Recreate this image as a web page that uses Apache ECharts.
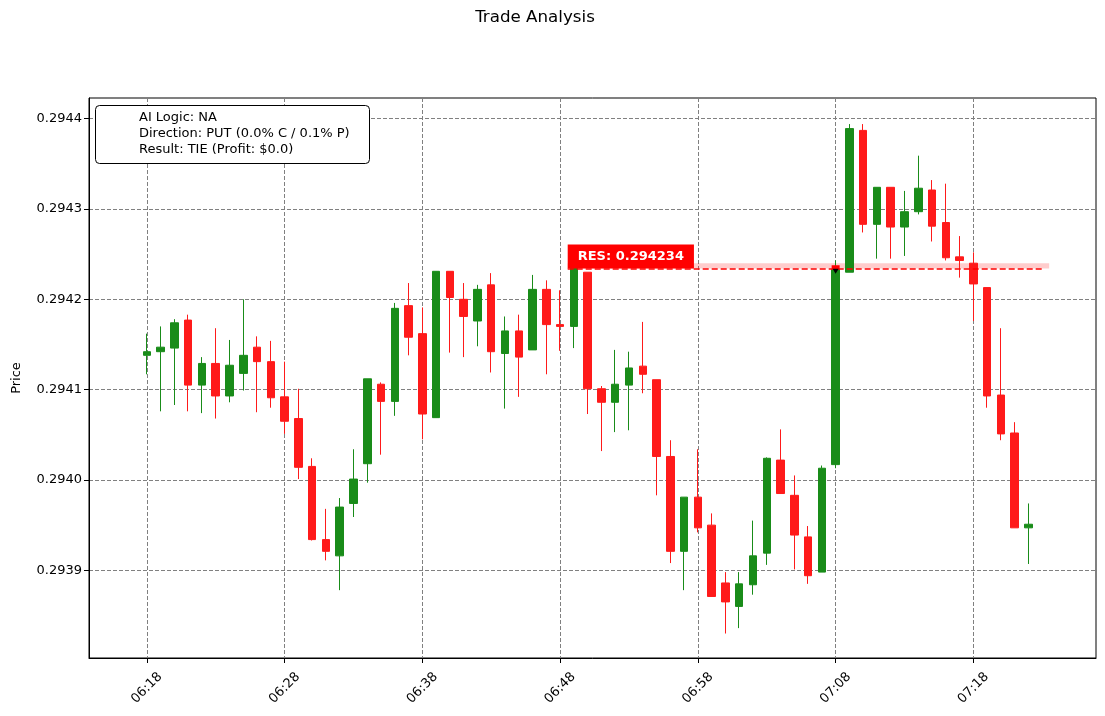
<!DOCTYPE html>
<html>
<head>
<meta charset="utf-8">
<script src="https://cdn.jsdelivr.net/npm/echarts@6/dist/echarts.min.js"></script>
<style>
html, body { margin: 0; padding: 0; background: #fff; }
#chart { width: 1105px; height: 716px; }
</style>
</head>
<body>
<div id="chart"></div>
<script>
// one candle per minute
var times = ['06:18','06:19','06:20','06:21','06:22','06:23','06:24','06:25','06:26','06:27',
             '06:28','06:29','06:30','06:31','06:32','06:33','06:34','06:35','06:36','06:37',
             '06:38','06:39','06:40','06:41','06:42','06:43','06:44','06:45','06:46','06:47',
             '06:48','06:49','06:50','06:51','06:52','06:53','06:54','06:55','06:56','06:57',
             '06:58','06:59','07:00','07:01','07:02','07:03','07:04','07:05','07:06','07:07',
             '07:08','07:09','07:10','07:11','07:12','07:13','07:14','07:15','07:16','07:17',
             '07:18','07:19','07:20','07:21','07:22'];
var opens = [0.294138,0.294142,0.294146,0.294177,0.294105,0.294129,0.294093,0.294118,0.294147,0.294131,
             0.294092,0.294068,0.294015,0.293934,0.293916,0.293974,0.294018,0.294106,0.294087,0.294193,
             0.294162,0.294069,0.294231,0.294200,0.294176,0.294216,0.294140,0.294165,0.294144,0.294211,
             0.294172,0.294170,0.294230,0.294101,0.294086,0.294105,0.294126,0.294111,0.294026,0.293921,
             0.293981,0.293950,0.293886,0.293860,0.293884,0.293919,0.294022,0.293983,0.293937,0.293898,
             0.294017,0.294230,0.294387,0.294283,0.294324,0.294280,0.294297,0.294321,0.294285,0.294247,
             0.294240,0.294213,0.294094,0.294052,0.293947];
var closes = [0.294142,0.294147,0.294174,0.294105,0.294129,0.294093,0.294127,0.294138,0.294131,0.294091,
              0.294065,0.294014,0.293934,0.293921,0.293970,0.294001,0.294112,0.294087,0.294190,0.294158,
              0.294073,0.294231,0.294202,0.294181,0.294211,0.294142,0.294165,0.294136,0.294211,0.294172,
              0.294170,0.294238,0.294101,0.294086,0.294106,0.294124,0.294117,0.294026,0.293921,0.293981,
              0.293947,0.293871,0.293865,0.293885,0.293916,0.294024,0.293985,0.293939,0.293894,0.294013,
              0.294233,0.294389,0.294283,0.294324,0.294280,0.294297,0.294323,0.294281,0.294246,0.294243,
              0.294217,0.294093,0.294051,0.293947,0.293951];
var highs = [0.294162,0.294170,0.294178,0.294183,0.294136,0.294168,0.294155,0.294200,0.294159,0.294154,
             0.294131,0.294101,0.294024,0.293968,0.293980,0.294034,0.294112,0.294108,0.294196,0.294218,
             0.294191,0.294231,0.294231,0.294218,0.294216,0.294229,0.294181,0.294183,0.294227,0.294221,
             0.294210,0.294250,0.294230,0.294104,0.294144,0.294142,0.294175,0.294111,0.294044,0.293981,
             0.294034,0.293963,0.293898,0.293898,0.293955,0.294025,0.294056,0.294005,0.293949,0.294016,
             0.294243,0.294394,0.294394,0.294324,0.294324,0.294320,0.294359,0.294332,0.294328,0.294270,
             0.294252,0.294213,0.294168,0.294064,0.293974];
var lows = [0.294117,0.294076,0.294083,0.294076,0.294074,0.294068,0.294086,0.294099,0.294075,0.294080,
            0.294051,0.294001,0.293933,0.293911,0.293878,0.293959,0.293997,0.294028,0.294071,0.294138,
            0.294045,0.294069,0.294141,0.294136,0.294148,0.294119,0.294079,0.294092,0.294144,0.294117,
            0.294143,0.294146,0.294073,0.294032,0.294053,0.294055,0.294096,0.293983,0.293908,0.293878,
            0.293942,0.293871,0.293830,0.293836,0.293873,0.293906,0.293985,0.293901,0.293885,0.293898,
            0.294013,0.294230,0.294274,0.294245,0.294245,0.294248,0.294294,0.294264,0.294243,0.294224,
            0.294176,0.294080,0.294044,0.293947,0.293907];

var resPrice = 0.294234;
var entryTime = '07:08';
var resFrom = '06:48', resTo = '07:23';
var infoLines = ['AI Logic: NA', 'Direction: PUT (0.0% C / 0.1% P)', 'Result: TIE (Profit: $0.0)'];

var FONT = 'DejaVu Sans';
var UP = '#198c19', DOWN = '#ff1a1a';

function toMin(t) { var p = t.split(':'); return (+p[0]) * 60 + (+p[1]); }
var t0 = toMin(times[0]);
function pad(n) { return (n < 10 ? '0' : '') + n; }
function fmtTime(v) { var m = t0 + Math.round(v); return pad(Math.floor(m / 60)) + ':' + pad(m % 60); }

var candles = times.map(function (t, i) {
    return [toMin(t) - t0, opens[i], closes[i], lows[i], highs[i]];
});
var entryX = toMin(entryTime) - t0;
var resX0 = toMin(resFrom) - t0 + 0.55, resX1 = toMin(resTo) - t0;

var chart = echarts.init(document.getElementById('chart'));
chart.setOption({
    animation: false,
    backgroundColor: '#fff',
    textStyle: { fontFamily: FONT },
    grid: { left: 89, right: 9, top: 98, bottom: 58, show: true, borderColor: '#000', borderWidth: 1, containLabel: false },
    xAxis: {
        type: 'value', min: -4.2, max: 68.9, minInterval: 10, maxInterval: 10,
        axisLine: { onZero: false, lineStyle: { color: '#000', width: 1 } },
        axisTick: { show: true, length: 5, lineStyle: { color: '#000' } },
        axisLabel: {
            rotate: 45, margin: 30, align: 'center', verticalAlign: 'middle',
            color: '#000', fontSize: 13, fontFamily: FONT,
            showMinLabel: false, showMaxLabel: false, formatter: fmtTime
        },
        splitLine: { show: true, lineStyle: { color: '#808080', width: 1, type: [4, 2] } }
    },
    yAxis: {
        type: 'value', min: 0.29380291, max: 0.29442286, minInterval: 0.0001, maxInterval: 0.0001,
        scale: true,
        name: 'Price', nameLocation: 'middle', nameGap: 66,
        nameTextStyle: { color: '#000', fontSize: 13, fontFamily: FONT },
        axisLine: { show: true, onZero: false, lineStyle: { color: '#000', width: 1 } },
        axisTick: { show: true, length: 5, lineStyle: { color: '#000' } },
        axisLabel: {
            margin: 7, color: '#000', fontSize: 13, fontFamily: FONT,
            showMinLabel: false, showMaxLabel: false,
            formatter: function (v) { return v.toFixed(4); }
        },
        splitLine: { show: true, lineStyle: { color: '#808080', width: 1, type: [4, 2] } }
    },
    series: [{
        type: 'candlestick',
        data: candles,
        encode: { x: 0, y: [1, 2, 3, 4] },
        barWidth: 8,
        itemStyle: { color: UP, color0: DOWN, borderColor: UP, borderColor0: DOWN, borderWidth: 1 },
        markArea: {
            silent: true,
            itemStyle: { color: 'rgba(255,0,0,0.2)' },
            data: [[{ coord: [resX0, resPrice] }, { coord: [resX1 + 0.5, resPrice + 0.000006] }]]
        },
        markLine: {
            silent: true, symbol: 'none',
            lineStyle: { color: '#ff0000', width: 1.5, type: [6, 3] },
            label: {
                show: true, position: 'insideStartTop', distance: [0, 0],
                formatter: 'RES: ' + resPrice.toFixed(6),
                color: '#fff', fontWeight: 'bold', fontSize: 13, fontFamily: FONT,
                backgroundColor: '#ff0000', padding: [6, 10, 5, 10]
            },
            data: [[{ coord: [resX0, resPrice] }, { coord: [resX1, resPrice] }]]
        },
        markPoint: {
            silent: true, label: { show: false },
            data: [
                { coord: [entryX, resPrice + 0.0000015], symbol: 'rect', symbolSize: [8, 4], itemStyle: { color: '#ff0000' } },
                { coord: [entryX, resPrice - 0.000003], symbol: 'triangle', symbolRotate: 180, symbolSize: [6, 5], itemStyle: { color: '#000' } }
            ]
        }
    }],
    graphic: [
        { type: 'text', x: 535, y: 18, style: { text: 'Trade Analysis', font: '16.7px "DejaVu Sans"', fill: '#000', textAlign: 'center', textVerticalAlign: 'middle' }, z: 10 },
        { type: 'rect', shape: { x: 95.5, y: 105.5, width: 274, height: 58, r: 4 }, style: { fill: '#fff', stroke: '#000', lineWidth: 1 }, z: 10 },
        { type: 'text', x: 139, y: 118, style: { text: infoLines[0], font: '13px "DejaVu Sans"', fill: '#000', textVerticalAlign: 'middle' }, z: 11 },
        { type: 'text', x: 139, y: 134, style: { text: infoLines[1], font: '13px "DejaVu Sans"', fill: '#000', textVerticalAlign: 'middle' }, z: 11 },
        { type: 'text', x: 139, y: 150, style: { text: infoLines[2], font: '13px "DejaVu Sans"', fill: '#000', textVerticalAlign: 'middle' }, z: 11 }
    ]
});
</script>
</body>
</html>
